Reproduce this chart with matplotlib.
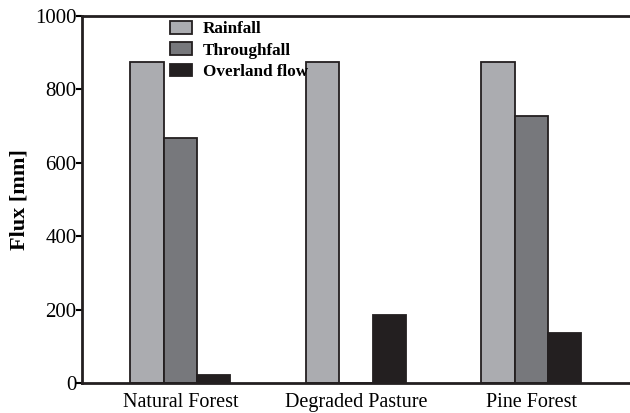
# 土地利用ごとの降雨・林内雨・表面流出量
import numpy as np
import matplotlib.pyplot as plt

plt.rcParams['font.family'] = ['Liberation Serif', 'DejaVu Serif']

sites = ["Natural Forest", "Degraded Pasture", "Pine Forest"]
rainfall = [875, 875, 875]
throughfall = [667, 0, 727]
overland = [22, 186, 136]

series = [
    ("Rainfall", rainfall, "#abacb0"),
    ("Throughfall", throughfall, "#77787c"),
    ("Overland flow", overland, "#231f20"),
]

def main():
    fig = plt.figure(figsize=(6.3, 4.13), dpi=100)
    ax = fig.add_axes([82/630, 30/413, 560/630, 367/413])

    x = np.arange(len(sites))
    w = 0.19
    for k, (name, vals, col) in enumerate(series):
        ax.bar(x + (k - 1)*w, vals, w, color=col, edgecolor="#231f20",
               linewidth=1.3, label=name)

    ax.set_xlim(-0.56, 2.63)
    ax.set_ylim(0, 1000)
    ax.set_yticks([0, 200, 400, 600, 800, 1000])
    ax.set_xticks(x)
    ax.set_xticklabels(sites)
    ax.tick_params(axis="x", length=0, pad=7, labelsize=14.5)
    ax.tick_params(axis="y", length=4, width=1.5, labelsize=15, pad=0)

    for s in ["left", "bottom", "top"]:
        ax.spines[s].set_linewidth(2)
        ax.spines[s].set_color("#231f20")
    ax.spines["right"].set_visible(False)

    ax.set_ylabel("Flux [mm]", fontsize=16, fontweight="bold", labelpad=4)

    ax.legend(loc="upper left", bbox_to_anchor=(0.158, 0.986), frameon=False,
              prop={"weight": "bold", "size": 12.3}, handlelength=1.25,
              handleheight=0.75, handletextpad=0.65, labelspacing=0.3,
              borderpad=0, borderaxespad=0)

    fig.savefig("out.png", dpi=100)


if __name__ == "__main__":
    main()
